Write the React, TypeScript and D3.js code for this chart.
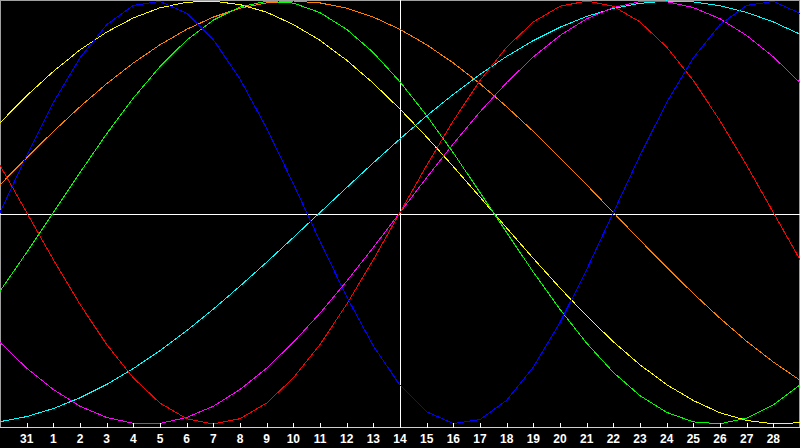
import { useRef, useEffect } from 'react';
import * as d3 from 'd3';

const W = 800;
const H = 448;

// day labels under the ticks (index 1..29); index 0 and 30 are unlabeled
const dayLabels = [
  '31', '1', '2', '3', '4', '5', '6', '7', '8', '9', '10', '11', '12', '13', '14',
  '15', '16', '17', '18', '19', '20', '21', '22', '23', '24', '25', '26', '27', '28',
];

// one value per day, x index 0..30 (-1 .. 1)
const blue = [
  0, 0.27, 0.52, 0.731, 0.888, 0.979, 0.998, 0.942, 0.817, 0.631, 0.398, 0.136,
  -0.136, -0.398, -0.631, -0.817, -0.942, -0.998, -0.979, -0.888, -0.731, -0.52, -0.27,
  0, 0.27, 0.52, 0.731, 0.888, 0.979, 0.998, 0.942,
];
const red = [
  0.223, 0, -0.223, -0.434, -0.624, -0.782, -0.901, -0.975, -1, -0.975, -0.901, -0.782,
  -0.624, -0.434, -0.223, 0, 0.223, 0.434, 0.624, 0.782, 0.901, 0.975, 1, 0.975, 0.901,
  0.782, 0.624, 0.434, 0.223, 0, -0.223,
];
const green = [
  -0.372, -0.189, 0, 0.189, 0.372, 0.541, 0.69, 0.815, 0.91, 0.972, 0.999, 0.99, 0.945,
  0.866, 0.756, 0.618, 0.458, 0.282, 0.095, -0.095, -0.282, -0.458, -0.618, -0.756,
  -0.866, -0.945, -0.99, -0.999, -0.972, -0.91, -0.815,
];
const magenta = [
  -0.614, -0.736, -0.837, -0.916, -0.969, -0.997, -0.997, -0.969, -0.916, -0.837, -0.736,
  -0.614, -0.476, -0.325, -0.165, 0, 0.165, 0.325, 0.476, 0.614, 0.736, 0.837, 0.916,
  0.969, 0.997, 0.997, 0.969, 0.916, 0.837, 0.736, 0.614,
];
const yellow = [
  0.424, 0.552, 0.667, 0.769, 0.853, 0.92, 0.968, 0.994, 0.999, 0.983, 0.947, 0.889,
  0.814, 0.72, 0.611, 0.489, 0.357, 0.217, 0.073, -0.073, -0.217, -0.357, -0.489, -0.611,
  -0.72, -0.814, -0.889, -0.947, -0.983, -0.999, -0.994,
];
const orange = [
  0.131, 0.259, 0.383, 0.5, 0.609, 0.707, 0.793, 0.866, 0.924, 0.966, 0.991, 1, 0.991,
  0.966, 0.924, 0.866, 0.793, 0.707, 0.609, 0.5, 0.383, 0.259, 0.131, 0, -0.131, -0.259,
  -0.383, -0.5, -0.609, -0.707, -0.793,
];
const cyan = [
  -0.989, -0.965, -0.927, -0.876, -0.813, -0.738, -0.653, -0.559, -0.457, -0.348, -0.235,
  -0.118, 0, 0.118, 0.235, 0.348, 0.457, 0.559, 0.653, 0.738, 0.813, 0.876, 0.927, 0.965,
  0.989, 1, 0.996, 0.978, 0.946, 0.901, 0.843,
];

const series = [
  { name: 'cyan', values: cyan, color: '#00ffff' },
  { name: 'orange', values: orange, color: '#ff8000' },
  { name: 'yellow', values: yellow, color: '#ffff00' },
  { name: 'magenta', values: magenta, color: '#ff00ff' },
  { name: 'green', values: green, color: '#00ff00' },
  { name: 'red', values: red, color: '#ff0000' },
  { name: 'blue', values: blue, color: '#0000ff' },
];

const BiorhythmChart = () => {
  const svgRef = useRef<SVGSVGElement>(null);

  useEffect(() => {
    const svg = d3.select(svgRef.current);
    svg.selectAll('*').remove();

    const plotBottom = 427.5;
    const x = d3.scaleLinear().domain([0, 30]).range([0, W]);
    const y = d3.scaleLinear().domain([-1, 1]).range([424, 1]);

    svg.append('rect').attr('width', W).attr('height', H).attr('fill', '#000');

    // frame
    svg.append('path')
      .attr('d', `M0.5,${plotBottom}V0.5H${W - 0.5}V${plotBottom}`)
      .attr('fill', 'none')
      .attr('stroke', '#a0a0a0')
      .attr('shape-rendering', 'crispEdges');

    // centre cross
    const zeroY = Math.round(y(0)) + 1.5;
    svg.append('line')
      .attr('x1', 0).attr('x2', W)
      .attr('y1', zeroY).attr('y2', zeroY)
      .attr('stroke', '#fff')
      .attr('shape-rendering', 'crispEdges');
    svg.append('line')
      .attr('x1', x(15) + 0.5).attr('x2', x(15) + 0.5)
      .attr('y1', 0).attr('y2', plotBottom)
      .attr('stroke', '#fff')
      .attr('shape-rendering', 'crispEdges');

    // curves
    const line = d3.line<number>()
      .x((_, i) => x(i))
      .y(d => y(d));

    series.forEach(s => {
      svg.append('path')
        .attr('d', line(s.values) || '')
        .attr('fill', 'none')
        .attr('stroke', s.color)
        .attr('stroke-width', 1)
        .attr('shape-rendering', 'crispEdges');
    });

    // axis
    svg.append('rect')
      .attr('x', 0).attr('y', plotBottom + 0.5)
      .attr('width', W).attr('height', H - plotBottom)
      .attr('fill', '#000');
    svg.append('line')
      .attr('x1', 0).attr('x2', W)
      .attr('y1', plotBottom).attr('y2', plotBottom)
      .attr('stroke', '#d0d0d0')
      .attr('shape-rendering', 'crispEdges');

    const ticks = svg.append('g');
    dayLabels.forEach((label, k) => {
      const i = k + 1;
      const tx = Math.round(x(i)) + 0.5;
      ticks.append('line')
        .attr('x1', tx).attr('x2', tx)
        .attr('y1', plotBottom - 5).attr('y2', plotBottom)
        .attr('stroke', '#fff')
        .attr('shape-rendering', 'crispEdges');
      ticks.append('text')
        .attr('x', x(i))
        .attr('y', 443)
        .attr('text-anchor', 'middle')
        .attr('font-family', '"Liberation Sans", Arial, sans-serif')
        .attr('font-weight', 'bold')
        .attr('font-size', 12)
        .attr('fill', '#fff')
        .text(label);
    });
  }, []);

  return <svg ref={svgRef} width={W} height={H} style={{ display: 'block' }} />;
};

export default function App() {
  return (
    <div style={{ position: 'fixed', left: 0, top: 0, width: W, height: H, background: '#000' }}>
      <BiorhythmChart />
    </div>
  );
}
